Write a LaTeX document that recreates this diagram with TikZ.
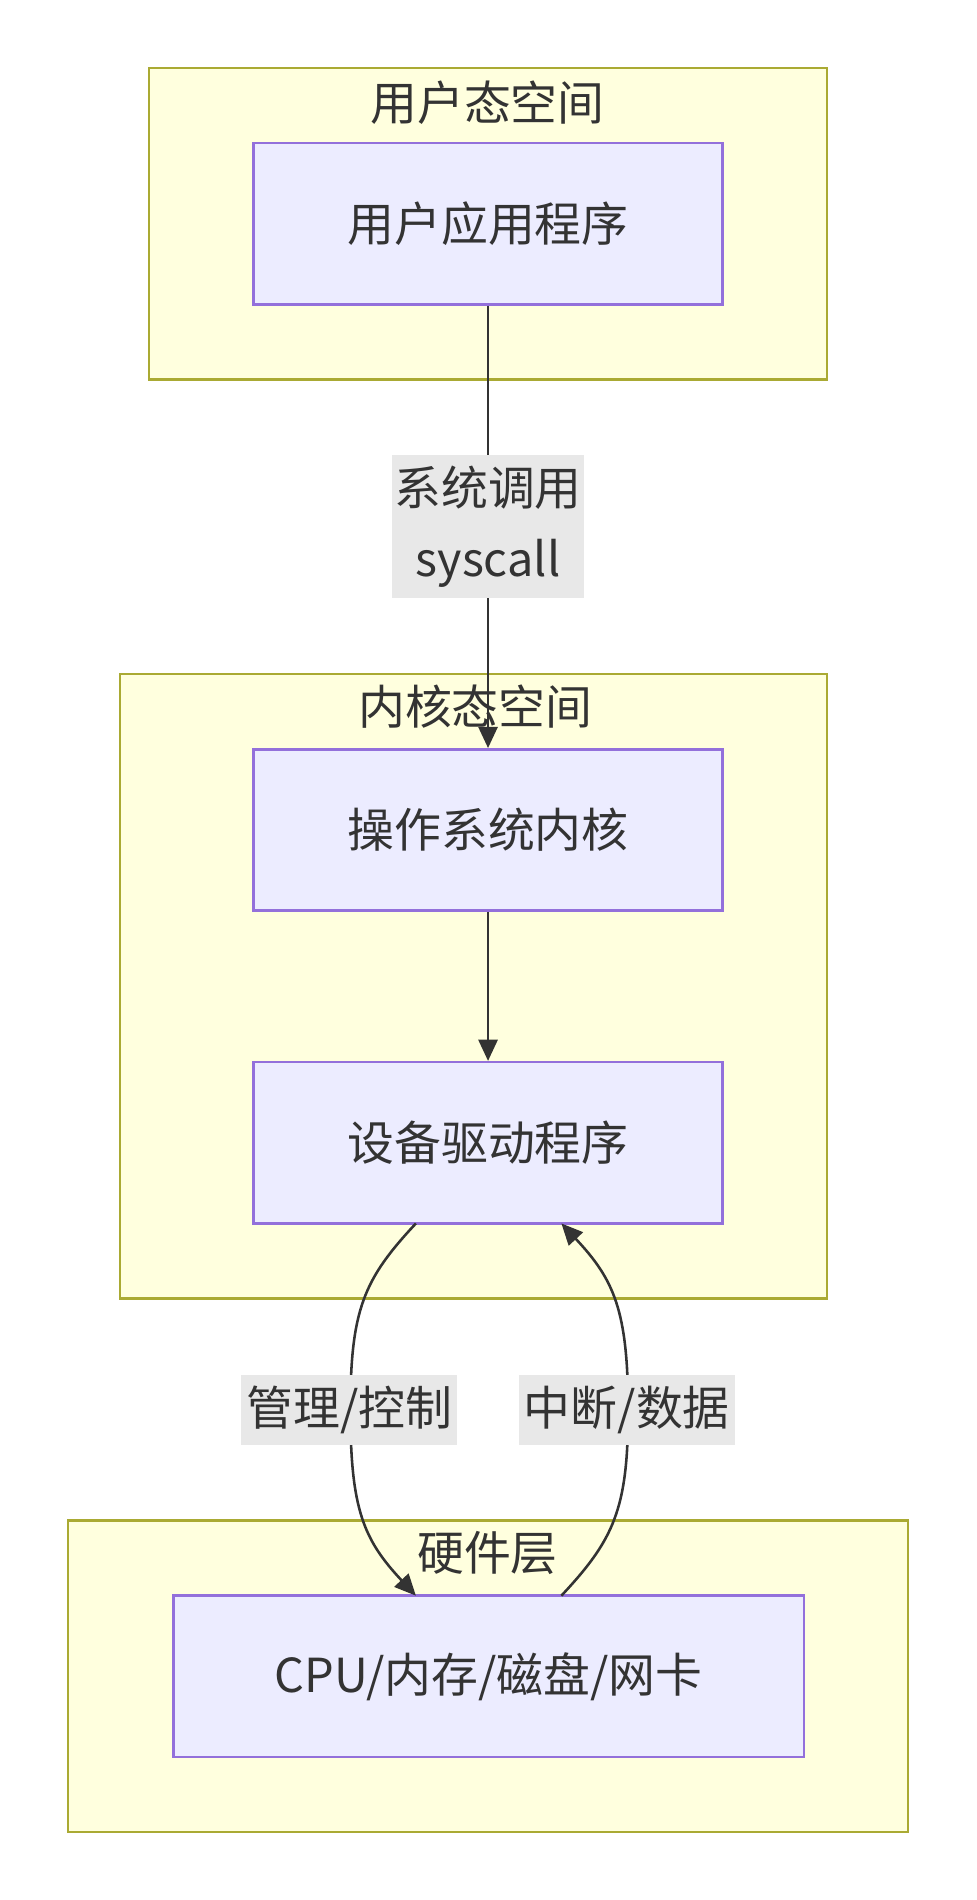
\documentclass[tikz,border=0pt]{standalone}
\usepackage{fontspec}
\setmainfont{Noto Sans CJK SC}
\usetikzlibrary{arrows.meta}
\definecolor{clfill}{HTML}{FFFFDE}
\definecolor{cldraw}{HTML}{AAAA33}
\definecolor{ndfill}{HTML}{ECECFF}
\definecolor{nddraw}{HTML}{9370DB}
\definecolor{txt}{HTML}{333333}
\definecolor{lbl}{HTML}{E8E8E8}
\begin{document}
\begin{tikzpicture}[x=0.02cm,y=-0.02cm,
  font=\fontsize{22}{27}\selectfont, text=txt,
  cluster/.style={draw=cldraw,fill=clfill,line width=1.2pt},
  nd/.style={draw=nddraw,fill=ndfill,line width=1.2pt,minimum width=7.74cm,minimum height=2.66cm,inner sep=0pt},
  edge/.style={draw=txt,line width=1.2pt,-{Triangle[length=10pt,width=9pt]}},
  elbl/.style={fill=lbl,inner sep=0pt,align=center}]
\useasboundingbox (0,0) rectangle (805,1567);
\draw[cluster] (123,56) rectangle (682,313);
\node at (402,85) {用户态空间};
\draw[cluster] (99,556) rectangle (682,1071);
\draw[cluster] (56,1254) rectangle (749,1511);
\node[nd] (app) at (402.5,184.5) {用户应用程序};
\node[nd] (kern) at (402.5,684.5) {操作系统内核};
\node[nd] (drv) at (402.5,942.5) {设备驱动程序};
\node[nd,minimum width=10.4cm] (hw) at (403,1382.5) {CPU/内存/磁盘/网卡};
\draw[edge] (app) -- (kern) node[pos=0.5,elbl,minimum width=3.16cm,minimum height=2.36cm,font=\fontsize{22}{33.5}\selectfont] {系统调用\\syscall};
\node at (392,583) {内核态空间};
\node at (402,1281) {硬件层};
\draw[edge] (kern) -- (drv);
\coordinate (a1) at (343,1009);
\coordinate (a2) at (343,1316);
\coordinate (b1) at (463,1316);
\coordinate (b2) at (463,1009);
\draw[edge] (a1) .. controls (300,1055) and (289,1080) .. (289,1163)
  .. controls (289,1245) and (300,1270) .. (a2);
\draw[edge] (b1) .. controls (506,1270) and (518,1245) .. (518,1163)
  .. controls (518,1080) and (506,1055) .. (b2);
\node[elbl,minimum width=3.56cm,minimum height=1.16cm] (l1) at (288,1163) {管理/控制};
\node[elbl,minimum width=3.56cm,minimum height=1.16cm] (l2) at (517,1163) {中断/数据};
\end{tikzpicture}
\end{document}
